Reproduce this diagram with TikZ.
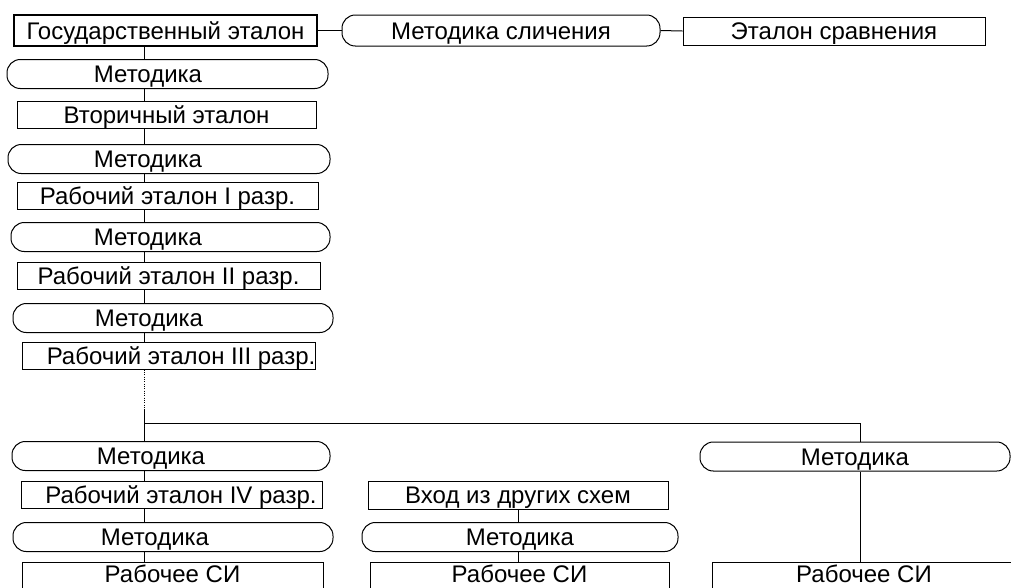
\documentclass[tikz,border=0pt]{standalone}
\usepackage{fontspec}
\newfontfamily\schemefont{Liberation Sans}
\usepackage{tikz}
\tikzset{
	wd/.style={minimum width=#1*0.75pt},                            % width in pixels
	etalon/.style={draw, rectangle, inner sep=0pt, minimum height=20.25pt, text height=13pt, text depth=0pt},
	metod/.style={draw, rectangle, rounded corners=10pt, inner sep=0pt, minimum height=21.75pt, text height=13pt, text depth=0pt},
	lowbox/.style={etalon, text depth=3pt},                         % boxes cut by the lower edge
	every label/.style={inner sep=0pt, text height=13pt, text depth=0pt},
}

\begin{document}
\begin{tikzpicture}[x=0.75pt,y=-0.75pt,line width=0.75pt,font=\schemefont\fontsize{18pt}{20pt}\selectfont]
	\useasboundingbox (0,0) rectangle (1011,587);
	\clip (0,0) rectangle (1011,587);
	\coordinate (axisL) at (144,0);   % left spine
	\coordinate (axisM) at (518,0);   % middle spine
	% top row
	\node[etalon, wd=303, minimum height=23.25pt, line width=1.8pt] (gos) at (165.5,30.5) {Государственный эталон};
	\node[metod, wd=318, minimum height=23.25pt] (ms) at (501,30.5) {Методика сличения};
	\node[etalon, wd=302, minimum height=21pt] (et) at (834,31) {Эталон сравнения};
	\draw (gos.east) -- (ms.west);
	\draw (ms.east) -- (et.west);
	% left column
	\node[metod, wd=321, label={[xshift=-14.6pt]center:Методика}] (m1) at (167.5,74) {};
	\node[etalon, wd=299] (vt) at (166.5,115) {Вторичный эталон};
	\node[metod, wd=322, label={[xshift=-15.8pt]center:Методика}] (m2) at (169,159) {};
	\node[etalon, wd=301] (r1) at (167.5,195.5) {Рабочий эталон I разр.};
	\node[metod, wd=319, label={[xshift=-16.9pt]center:Методика}] (m3) at (170.5,237) {};
	\node[etalon, wd=303] (r2) at (168.5,275.5) {Рабочий эталон II разр.};
	\node[metod, wd=320, label={[xshift=-18pt]center:Методика}] (m4) at (173,318) {};
	\node[etalon, wd=293, label={[xshift=9.4pt]center:Рабочий эталон III разр.}] (r3) at (168.5,355.5) {};
	\foreach \a/\b in {gos/m1, m1/vt, vt/m2, m2/r1, r1/m3, m3/r2, r2/m4, m4/r3}
		\draw (\a.south -| axisL) -- (\b.north -| axisL);
	% branching
	\coordinate (dots) at (144,410);
	\coordinate (fork) at (144,423);
	\coordinate (turn) at (860,423);
	\draw[densely dotted] (r3.south -| axisL) -- (dots);
	\draw (dots) -- (fork) -- (turn);
	% bottom left branch
	\node[metod, wd=318, label={[xshift=-15pt]center:Методика}] (m5) at (171,456) {};
	\node[etalon, wd=301, label={[xshift=7.1pt]center:Рабочий эталон IV разр.}] (r4) at (171.5,494.5) {};
	\node[metod, wd=320, label={[xshift=-13.5pt]center:Методика}] (m6) at (173,537) {};
	\node[lowbox, wd=301] (si1) at (172.5,575.5) {Рабочее СИ};
	\draw (fork) -- (m5.north -| axisL);
	\foreach \a/\b in {m5/r4, r4/m6, m6/si1}
		\draw (\a.south -| axisL) -- (\b.north -| axisL);
	% middle branch
	\node[etalon, wd=300, minimum height=21pt] (in) at (518,495) {Вход из других схем};
	\node[metod, wd=316] (m7) at (520,537) {Методика};
	\node[lowbox, wd=299] (si2) at (519.5,575.5) {Рабочее СИ};
	\draw (in.south -| axisM) -- (m7.north -| axisM);
	\draw (m7.south -| axisM) -- (si2.north -| axisM);
	% right branch
	\node[metod, wd=310] (m8) at (855,456.5) {Методика};
	\node[lowbox, wd=304] (si3) at (864,575.5) {Рабочее СИ};
	\draw (turn) -- (m8.north -| turn);
	\draw (m8.south -| turn) -- (si3.north -| turn);
\end{tikzpicture}
\end{document}
